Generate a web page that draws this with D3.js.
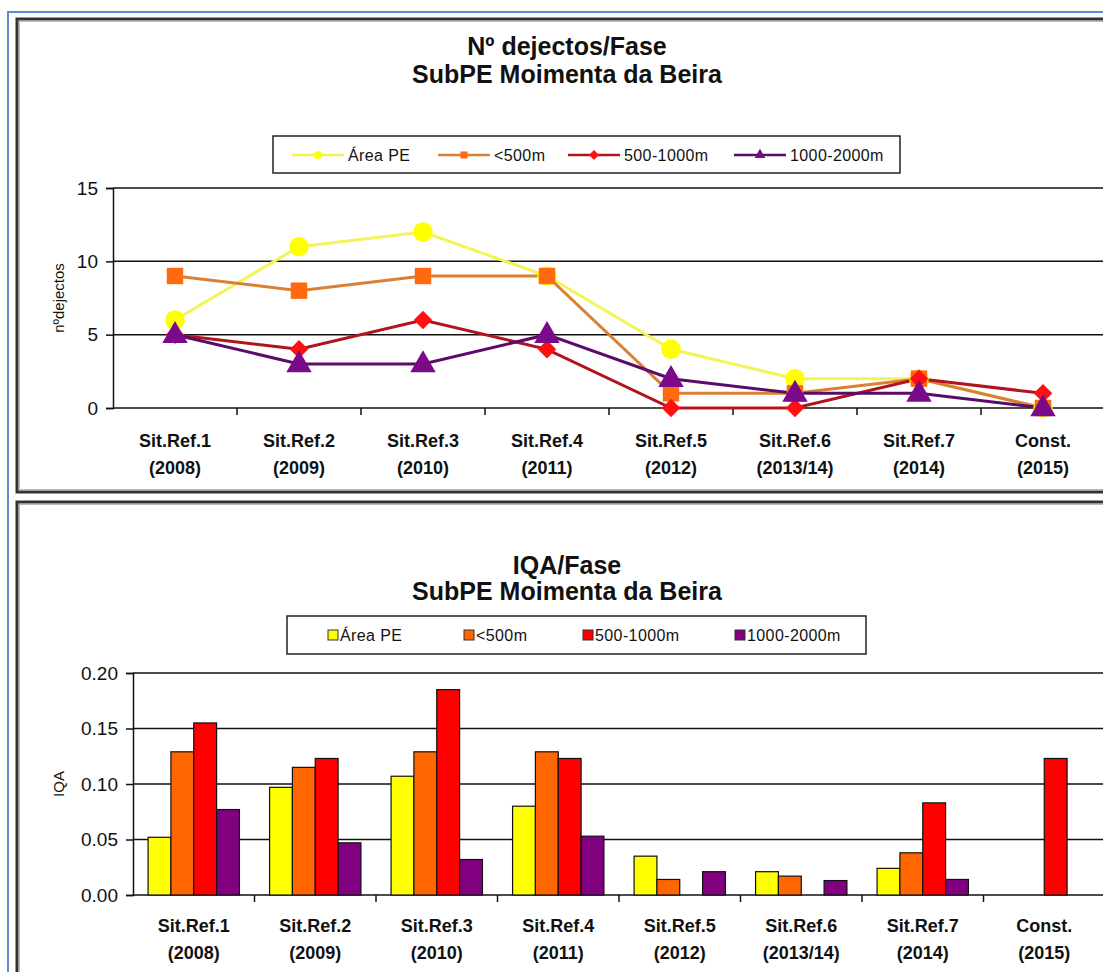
<!DOCTYPE html>
<html>
<head>
<meta charset="utf-8">
<script src="https://cdn.jsdelivr.net/npm/d3@7"></script>
<style>
  html, body { margin: 0; padding: 0; background: #fff; }
  svg { display: block; }
  text { font-family: "Liberation Sans", Arial, sans-serif; fill: #111; }
</style>
</head>
<body>
<svg id="chart" width="1103" height="972"></svg>
<script>
// Phases (x categories), two-line labels
const phases = [
  ["Sit.Ref.1", "(2008)"], ["Sit.Ref.2", "(2009)"], ["Sit.Ref.3", "(2010)"],
  ["Sit.Ref.4", "(2011)"], ["Sit.Ref.5", "(2012)"], ["Sit.Ref.6", "(2013/14)"],
  ["Sit.Ref.7", "(2014)"], ["Const.", "(2015)"]
];
const seriesNames = ["Área PE", "<500m", "500-1000m", "1000-2000m"];

// Number of droppings per phase
const dejArea   = [6, 11, 12, 9, 4, 2, 2, 0];
const dej500    = [9, 8, 9, 9, 1, 1, 2, 0];
const dej1000   = [5, 4, 6, 4, 0, 0, 2, 1];
const dej2000   = [5, 3, 3, 5, 2, 1, 1, 0];
const dejTicks  = [0, 5, 10, 15];

// IQA per phase
const iqaArea   = [0.052, 0.097, 0.107, 0.080, 0.035, 0.021, 0.024, 0];
const iqa500    = [0.129, 0.115, 0.129, 0.129, 0.014, 0.017, 0.038, 0];
const iqa1000   = [0.155, 0.123, 0.185, 0.123, 0, 0, 0.083, 0.123];
const iqa2000   = [0.077, 0.047, 0.032, 0.053, 0.021, 0.013, 0.014, 0];
const iqaTicks  = [0, 0.05, 0.10, 0.15, 0.20];

const lineColors   = ["#f4f456", "#d98034", "#b0141e", "#5a0c68"];
const markerColors = ["#ffff00", "#ff6a10", "#ff1010", "#7a0a8a"];
const barColors    = ["#ffff00", "#ff6600", "#ff0000", "#800080"];

const svg = d3.select("#chart");

// Outer blue border and the two chart frames
svg.append("rect").attr("x", 8).attr("y", 12).attr("width", 1110).attr("height", 980)
  .attr("fill", "none").attr("stroke", "#5b8bd0").attr("stroke-width", 2);
function frame(y, h) {
  svg.append("rect").attr("x", 17).attr("y", y).attr("width", 1100).attr("height", h)
    .attr("fill", "none").attr("stroke", "#333").attr("stroke-width", 3);
  svg.append("rect").attr("x", 19.5).attr("y", y + 2.5).attr("width", 1100).attr("height", h - 5)
    .attr("fill", "none").attr("stroke", "#bbb").attr("stroke-width", 1);
}
frame(19, 473);
frame(502, 500);

function titles(cx, y1, y2, t1) {
  svg.append("text").attr("x", cx).attr("y", y1).attr("text-anchor", "middle")
    .attr("font-size", 25).attr("font-weight", "bold").text(t1);
  svg.append("text").attr("x", cx).attr("y", y2).attr("text-anchor", "middle")
    .attr("font-size", 25).attr("font-weight", "bold").text("SubPE Moimenta da Beira");
}

function xAxisLabels(g, x, yBase) {
  const lab = g.append("g").selectAll("g").data(phases).join("g")
    .attr("transform", (d, i) => `translate(${x(i) + x.bandwidth() / 2},${yBase})`);
  lab.append("text").attr("text-anchor", "middle").attr("font-size", 18)
    .attr("font-weight", "bold").text(d => d[0]);
  lab.append("text").attr("y", 27).attr("text-anchor", "middle").attr("font-size", 18)
    .attr("font-weight", "bold").text(d => d[1]);
}

function drawGridAndAxes(x, y, ticks, fmt, left, right) {
  const g = svg.append("g");
  g.selectAll("line.grid").data(ticks.filter(t => t > 0)).join("line")
    .attr("x1", left).attr("x2", right).attr("y1", d => y(d)).attr("y2", d => y(d))
    .attr("stroke", "#111").attr("stroke-width", 1.5);
  const ya = d3.axisLeft(y).tickValues(ticks).tickFormat(fmt).tickSize(7).tickPadding(8);
  const yg = g.append("g").attr("transform", `translate(${left},0)`).call(ya);
  yg.select(".domain").attr("stroke", "#111").attr("stroke-width", 1.5);
  yg.selectAll(".tick line").attr("stroke", "#111").attr("stroke-width", 1.5);
  yg.selectAll(".tick text").attr("font-size", 19).attr("font-family", "Liberation Sans, Arial")
    .attr("fill", "#222");
  // x axis baseline with ticks between phases
  g.append("line").attr("x1", left).attr("x2", right).attr("y1", y(0)).attr("y2", y(0))
    .attr("stroke", "#111").attr("stroke-width", 1.5);
  g.selectAll("line.xt").data(d3.range(1, phases.length)).join("line")
    .attr("x1", i => x(i)).attr("x2", i => x(i))
    .attr("y1", y(0)).attr("y2", y(0) + 7).attr("stroke", "#111").attr("stroke-width", 1.5);
  return g;
}

// ---------- Line chart: droppings per phase ----------
{
  const left = 113, right = 1105, top = 188, bottom = 408;
  const x = d3.scaleBand().domain(d3.range(phases.length)).range([left, right]);
  const y = d3.scaleLinear().domain([0, 15]).range([bottom, top]);
  titles(567, 55, 83, "Nº dejectos/Fase");
  drawGridAndAxes(x, y, dejTicks, d3.format("d"), left, right);
  svg.append("text").attr("transform", `translate(64,${(top + bottom) / 2}) rotate(-90)`)
    .attr("text-anchor", "middle").attr("font-size", 15).text("nºdejectos");
  xAxisLabels(svg, x, 447);

  const cx = i => x(i) + x.bandwidth() / 2;
  const series = [dejArea, dej500, dej1000, dej2000];
  const line = d3.line().x((d, i) => cx(i)).y(d => y(d));
  const symbols = [d3.symbolCircle, d3.symbolSquare, d3.symbolSquare, d3.symbolTriangle];
  const sizes = [300, 270, 170, 280];
  const rot = [0, 0, 45, 0];
  series.forEach((s, k) => {
    svg.append("path").datum(s).attr("d", line).attr("fill", "none")
      .attr("stroke", lineColors[k]).attr("stroke-width", 3);
  });
  series.forEach((s, k) => {
    svg.append("g").selectAll("path").data(s).join("path")
      .attr("d", d3.symbol().type(symbols[k]).size(sizes[k]))
      .attr("transform", (d, i) => `translate(${cx(i)},${y(d) + (k === 3 ? 1 : 0)}) rotate(${rot[k]})`)
      .attr("fill", markerColors[k]);
  });

  // Legend
  const lg = svg.append("g");
  lg.append("rect").attr("x", 273).attr("y", 136).attr("width", 627).attr("height", 37)
    .attr("fill", "#fff").attr("stroke", "#222").attr("stroke-width", 1.5);
  const items = [[292, 348], [438, 494], [568, 624], [734, 790]];
  items.forEach(([lx, tx], k) => {
    lg.append("line").attr("x1", lx).attr("x2", lx + 52).attr("y1", 155).attr("y2", 155)
      .attr("stroke", lineColors[k]).attr("stroke-width", 2.5);
    lg.append("path").attr("d", d3.symbol().type(symbols[k]).size(50))
      .attr("transform", `translate(${lx + 26},155) rotate(${rot[k]})`).attr("fill", markerColors[k]);
    lg.append("text").attr("x", tx).attr("y", 161).attr("font-size", 16)
      .attr("letter-spacing", 0.4).text(seriesNames[k]);
  });
}

// ---------- Bar chart: IQA per phase ----------
{
  const left = 133, right = 1105, top = 673, bottom = 895;
  const x = d3.scaleBand().domain(d3.range(phases.length)).range([left, right]);
  const y = d3.scaleLinear().domain([0, 0.20]).range([bottom, top]);
  titles(567, 574, 600, "IQA/Fase");
  drawGridAndAxes(x, y, iqaTicks, d3.format(".2f"), left, right);
  svg.append("text").attr("transform", `translate(64,${(top + bottom) / 2}) rotate(-90)`)
    .attr("text-anchor", "middle").attr("font-size", 15).text("IQA");
  xAxisLabels(svg, x, 932);

  const series = [iqaArea, iqa500, iqa1000, iqa2000];
  const inner = d3.scaleBand().domain(d3.range(4)).range([0, x.bandwidth()]).paddingOuter(0.66);
  series.forEach((s, k) => {
    svg.append("g").selectAll("rect").data(s.map((v, i) => ({ v, i }))).join("rect")
      .filter(d => d.v > 0)
      .attr("x", d => x(d.i) + inner(k)).attr("width", inner.bandwidth())
      .attr("y", d => y(d.v)).attr("height", d => y(0) - y(d.v))
      .attr("fill", barColors[k]).attr("stroke", "#111").attr("stroke-width", 1.2);
  });

  // Legend
  const lg = svg.append("g");
  lg.append("rect").attr("x", 287).attr("y", 616).attr("width", 579).attr("height", 38)
    .attr("fill", "#fff").attr("stroke", "#222").attr("stroke-width", 1.5);
  const items = [328, 464, 583, 735];
  items.forEach((lx, k) => {
    lg.append("rect").attr("x", lx).attr("y", 630).attr("width", 10).attr("height", 10)
      .attr("fill", barColors[k]).attr("stroke", "#333").attr("stroke-width", 1);
    lg.append("text").attr("x", lx + 12).attr("y", 641).attr("font-size", 16)
      .attr("letter-spacing", 0.4).text(seriesNames[k]);
  });
}
</script>
</body>
</html>
